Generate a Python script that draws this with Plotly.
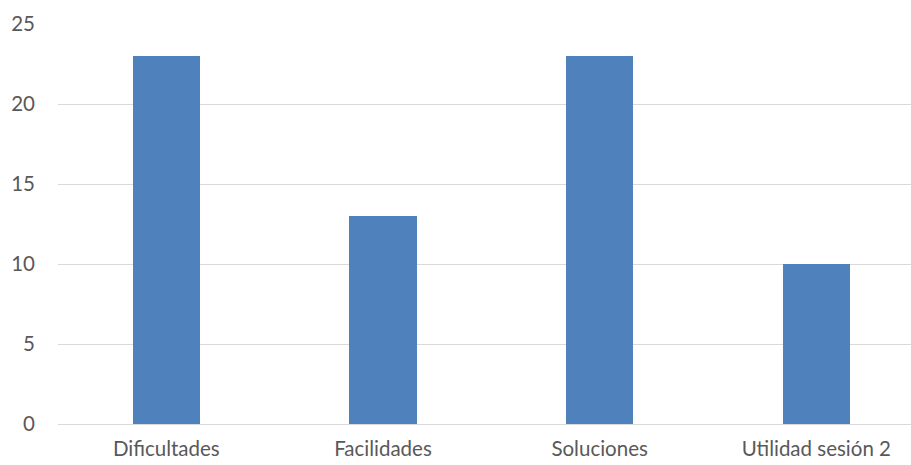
import plotly.graph_objects as go

categories = ["Dificultades", "Facilidades", "Soluciones", "Utilidad sesión 2"]
values = [23, 13, 23, 10]
y_ticks = [0, 5, 10, 15, 20, 25]

fig = go.Figure(
    go.Bar(
        x=list(range(len(categories))),
        y=values,
        width=0.31,
        marker=dict(color="#4F81BD", line=dict(width=0)),
    )
)

fig.update_layout(
    width=911,
    height=465,
    margin=dict(l=58, r=0, t=24, b=40.5),
    paper_bgcolor="white",
    plot_bgcolor="white",
    font=dict(family="Lato, Open Sans, sans-serif", size=20.5, color="#595959"),
    showlegend=False,
    bargap=0,
)

fig.update_xaxes(
    range=[-0.5, 3.437],
    tickvals=list(range(len(categories))),
    ticktext=categories,
    showgrid=False,
    showline=False,
    zeroline=False,
    ticks="",
    ticklabelstandoff=10,
)

fig.update_yaxes(
    range=[0, 25],
    tickvals=y_ticks,
    showgrid=True,
    gridcolor="#D9D9D9",
    gridwidth=1,
    zeroline=True,
    zerolinecolor="#D9D9D9",
    zerolinewidth=1,
    ticks="",
    ticklabelstandoff=22,
)

fig.write_html("out.html")
